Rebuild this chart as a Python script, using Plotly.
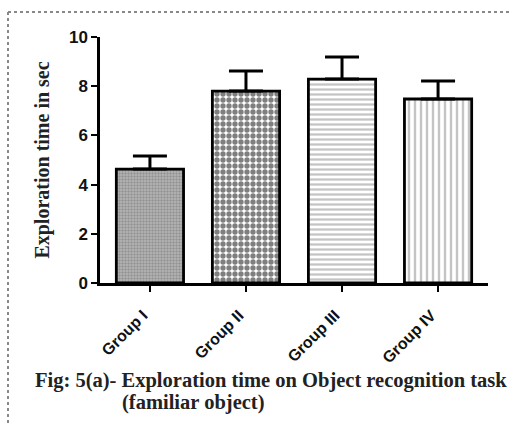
import plotly.graph_objects as go

categories = ["Group I", "Group II", "Group III", "Group IV"]
values = [4.63, 7.80, 8.29, 7.48]
errors = [0.53, 0.82, 0.90, 0.73]
y_ticks = [0, 2, 4, 6, 8, 10]

W, H = 511, 424
L, R, T, B = 100, 23, 37, 141
pw, ph = W - L - R, H - T - B

def px_x(x):
    return (x - L) / pw

def px_y(y):
    return (H - B - y) / ph

patterns = [
    dict(shape=".", fgcolor="#6e6e6e", bgcolor="#b8b8b8", size=3, solidity=0.5),
    dict(shape=".", fgcolor="#000000", bgcolor="#ffffff", size=6, solidity=0.62),
    dict(shape="-", fgcolor="#8a8a8a", bgcolor="#ffffff", size=5, solidity=0.45),
    dict(shape="|", fgcolor="#8a8a8a", bgcolor="#ffffff", size=6, solidity=0.4),
]

serif = "Liberation Serif, Times New Roman"
sans = "Liberation Sans, Arial"

fig = go.Figure()
for i, cat in enumerate(categories):
    fig.add_trace(go.Bar(
        x=[cat], y=[values[i]],
        marker=dict(color="#ffffff", pattern=patterns[i],
                    line=dict(color="black", width=2.8)),
        error_y=dict(type="data", symmetric=False, array=[errors[i]],
                     arrayminus=[0], color="black", thickness=3, width=17),
        showlegend=False,
    ))

fig.update_layout(
    width=W, height=H,
    margin=dict(l=L, r=R, t=T, b=B),
    paper_bgcolor="white", plot_bgcolor="white",
    bargap=0.3,
    xaxis=dict(
        categoryorder="array", categoryarray=categories,
        range=[-0.52, 3.52],
        showline=True, linecolor="black", linewidth=2.5,
        ticks="outside", ticklen=6, tickwidth=2, tickcolor="black",
        tickangle=-45, ticklabelstandoff=8, ticklabelshift=-7,
        tickfont=dict(family=sans, size=16, color="#111111", weight="bold"),
        showgrid=False, zeroline=False,
    ),
    yaxis=dict(
        range=[0, 10], tickvals=y_ticks,
        showline=True, linecolor="black", linewidth=2.5,
        ticks="outside", ticklen=6, tickwidth=2, tickcolor="black",
        tickfont=dict(family=sans, size=17, color="#111111", weight="bold"),
        showgrid=False, zeroline=False,
        title=dict(text="Exploration time in sec", standoff=14,
                   font=dict(family=serif, size=20, color="#222222", weight="bold")),
    ),
    shapes=[
        dict(type="line", xref="paper", yref="paper",
             x0=px_x(8), x1=px_x(W), y0=px_y(12), y1=px_y(12),
             line=dict(color="#888888", width=2, dash="dot")),
        dict(type="line", xref="paper", yref="paper",
             x0=px_x(8), x1=px_x(8), y0=px_y(12), y1=px_y(H),
             line=dict(color="#888888", width=2, dash="dot")),
    ],
    annotations=[
        dict(text="Fig: 5(a)- Exploration time on Object recognition task",
             xref="paper", yref="paper", x=px_x(33), y=px_y(380),
             xanchor="left", yanchor="middle", showarrow=False,
             font=dict(family=serif, size=20.5, color="#222222", weight="bold")),
        dict(text="(familiar object)",
             xref="paper", yref="paper", x=px_x(120), y=px_y(402),
             xanchor="left", yanchor="middle", showarrow=False,
             font=dict(family=serif, size=20.5, color="#222222", weight="bold")),
    ],
)

fig.write_html("out.html", config={"displayModeBar": False},
               post_script="document.body.style.margin='0';document.body.style.overflow='hidden';")
